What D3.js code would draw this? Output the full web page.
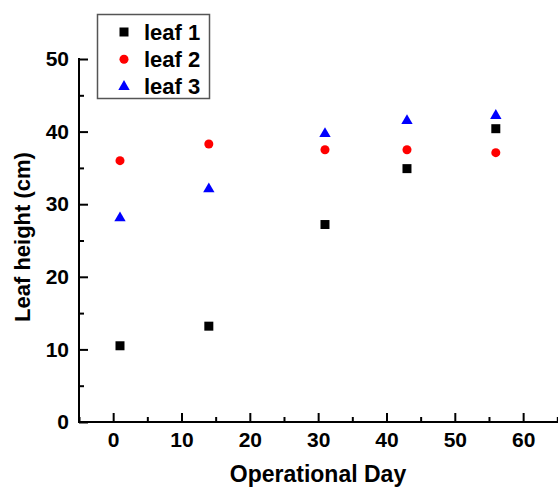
<!DOCTYPE html>
<html>
<head>
<meta charset="utf-8">
<style>
    body { margin: 0; background: #fff; }
    svg { display: block; font-family: "Liberation Sans", Arial, sans-serif; font-weight: bold; }
    .axis .domain { display: none; }
    .axis .tick line { stroke: #000; stroke-width: 2px; }
    .axis .tick text { font-size: 21px; fill: #000; }
</style>
</head>
<body>
<svg width="558" height="487"></svg>
<script src="https://d3js.org/d3.v7.min.js"></script>
<script>
    // values
    let days = [1, 14, 31, 43, 56]
    let leaf1 = [10.5, 13.2, 27.2, 34.9, 40.4]
    let leaf2 = [36.0, 38.3, 37.5, 37.5, 37.1]
    let leaf3 = [28.1, 32.1, 39.7, 41.5, 42.2]
    let seriesNames = ["leaf 1", "leaf 2", "leaf 3"]
    let seriesColors = ["#000000", "#ff0000", "#0000ff"]
    let xTicks = [0, 10, 20, 30, 40, 50, 60]
    let yTicks = [0, 10, 20, 30, 40, 50]

    let svg = d3.select("svg")

    let x = d3.scaleLinear().domain([-5, 65]).range([79, 557.3])
    let y = d3.scaleLinear().domain([0, 50]).range([422, 59])

    // minor ticks first, then the labelled ones
    svg.append("g")
        .attr("class", "axis")
        .attr("transform", "translate(0,422)")
        .call(d3.axisBottom(x).tickValues(d3.range(-5, 66, 10)).tickSize(-5).tickFormat(""))
    svg.append("g")
        .attr("class", "axis")
        .attr("transform", "translate(0,422)")
        .call(d3.axisBottom(x).tickValues(xTicks).tickSize(-9).tickPadding(10).tickFormat(d3.format("d")))

    svg.append("g")
        .attr("class", "axis")
        .attr("transform", "translate(79,0)")
        .call(d3.axisLeft(y).tickValues(d3.range(5, 50, 10)).tickSize(-5).tickFormat(""))
    svg.append("g")
        .attr("class", "axis")
        .attr("transform", "translate(79,0)")
        .call(d3.axisLeft(y).tickValues(yTicks).tickSize(-9).tickPadding(10).tickFormat(d3.format("d")))

    // axis lines
    svg.append("line")
        .attr("x1", x(-5)).attr("x2", x(-5))
        .attr("y1", y(50) - 1).attr("y2", y(0) + 1)
        .style("stroke", "#000").style("stroke-width", "2px")
    svg.append("line")
        .attr("x1", x(-5) - 1).attr("x2", 558)
        .attr("y1", y(0)).attr("y2", y(0))
        .style("stroke", "#000").style("stroke-width", "2px")

    // titles
    svg.append("text")
        .attr("x", 318).attr("y", 482)
        .attr("text-anchor", "middle")
        .style("font-size", "23px")
        .text("Operational Day")
    svg.append("text")
        .attr("transform", "translate(30,237) rotate(-90)")
        .attr("text-anchor", "middle")
        .style("font-size", "22px")
        .text("Leaf height (cm)")

    let symbols = [d3.symbolSquare, d3.symbolCircle, d3.symbolTriangle]
    let symbolSizes = [81, 64, 56]
    let allSeries = [leaf1, leaf2, leaf3]

    allSeries.forEach(function (vals, i) {
        svg.append("g")
            .selectAll("path")
            .data(vals)
            .join("path")
            .attr("transform", (d, j) => `translate(${x(days[j])},${y(d)})`)
            .attr("d", d3.symbol().type(symbols[i]).size(symbolSizes[i]))
            .style("fill", seriesColors[i])
    })

    // legend
    svg.append("rect")
        .attr("x", 97.5).attr("y", 14.5)
        .attr("width", 112).attr("height", 84)
        .style("fill", "none")
        .style("stroke", "#555")
        .style("stroke-width", "1.5px")

    let legend = svg.append("g")
        .selectAll("g")
        .data(seriesNames)
        .join("g")
        .attr("transform", (d, i) => `translate(0,${32 + i * 27.3})`)

    legend.append("path")
        .attr("transform", "translate(124,0)")
        .attr("d", (d, i) => d3.symbol().type(symbols[i]).size(symbolSizes[i])())
        .style("fill", (d, i) => seriesColors[i])

    legend.append("text")
        .attr("x", 144)
        .attr("y", 7.5)
        .style("font-size", "22px")
        .text(d => d)
</script>
</body>
</html>
